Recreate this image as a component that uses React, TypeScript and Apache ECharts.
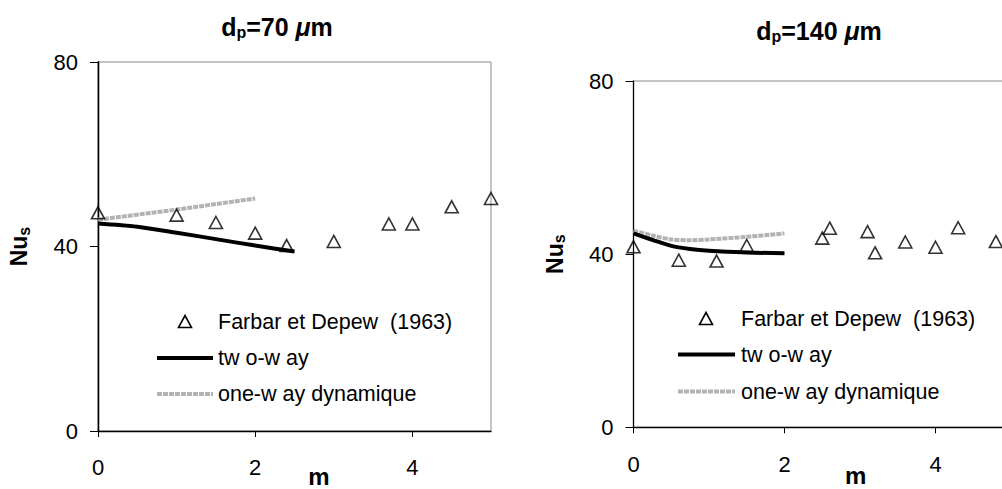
import React, { useEffect, useRef } from "react";
import * as echarts from "echarts";

// ---------- data ----------
const farbar70X = [0, 1, 1.5, 2, 2.4, 3, 3.7, 4, 4.5, 5];
const farbar70Y = [47.3, 46.8, 45.2, 42.9, 40.2, 41.1, 44.9, 44.9, 48.6, 50.4];
const twoWay70X = [0, 0.5, 1, 1.5, 2, 2.5];
const twoWay70Y = [45.0, 44.3, 43.0, 41.6, 40.2, 38.9];
const oneWay70X = [0, 0.5, 1, 1.5, 2];
const oneWay70Y = [45.8, 46.9, 48.0, 49.2, 50.4];

const farbar140X = [0, 0.6, 1.1, 1.5, 2.5, 2.6, 3.1, 3.2, 3.6, 4, 4.3, 4.8];
const farbar140Y = [41.7, 38.6, 38.4, 42.0, 43.7, 46.0, 45.2, 40.3, 42.8, 41.6, 46.1, 42.9];
const twoWay140X = [0, 0.25, 0.5, 0.75, 1, 1.5, 2];
const twoWay140Y = [44.8, 43.3, 41.9, 41.2, 40.8, 40.4, 40.2];
const oneWay140X = [0, 0.25, 0.5, 0.75, 1, 1.5, 2];
const oneWay140Y = [45.4, 44.3, 43.4, 43.2, 43.4, 44.0, 44.8];

const xTicks = [0, 2, 4];
const titles = ["70", "140"];
const legendNames = ["Farbar et Depew  (1963)", "tw o-w ay", "one-w ay dynamique"];

const FONT = "Liberation Sans";
const GRAY = "#b3b3b3";

const zip = (xs: number[], ys: number[]) => xs.map((x, i) => [x, ys[i]]);

export default function App() {
  const ref = useRef<HTMLDivElement>(null);
  useEffect(() => {
    if (!ref.current) return;
    const chart = echarts.init(ref.current, null, { renderer: "svg" });

    const grids = [
      { left: 98, top: 62, width: 393, height: 369 },
      { left: 633.5, top: 81, width: 377.5, height: 346.3 },
    ];
    const xNamePad = [49, 67];
    const xNameGap = [33, 36];
    const xLabelMargin = [25, 26];

    const xAxes: any[] = [];
    const yAxes: any[] = [];
    grids.forEach((g, i) => {
      xAxes.push({
        type: "value",
        gridIndex: i,
        min: 0,
        max: 5,
        interval: 1,
        name: "m",
        nameLocation: "middle",
        nameGap: xNameGap[i],
        nameMoveOverlap: false,
        nameTextStyle: {
          fontFamily: FONT,
          fontWeight: "bold",
          fontSize: 24,
          color: "#000",
          padding: [0, 0, 0, xNamePad[i]],
        },
        axisLine: { show: true, lineStyle: { color: "#000", width: 1.3 } },
        axisTick: { show: true, inside: false, length: 6, customValues: xTicks, lineStyle: { color: "#000" } },
        axisLabel: {
          customValues: xTicks,
          margin: xLabelMargin[i],
          fontFamily: FONT,
          fontSize: 22,
          color: "#000",
        },
        splitLine: { show: false },
      });
      yAxes.push({
        type: "value",
        gridIndex: i,
        min: 0,
        max: 80,
        interval: 40,
        name: "{a|Nu}{s|s}",
        nameLocation: "middle",
        nameGap: 66,
        nameMoveOverlap: false,
        nameTextStyle: {
          rich: {
            a: { fontFamily: FONT, fontWeight: "bold", fontSize: 23, color: "#000" },
            s: {
              fontFamily: FONT,
              fontWeight: "bold",
              fontSize: 16,
              color: "#000",
              padding: [10, 0, 0, 0],
            },
          },
        },
        axisLine: { show: true, onZero: false, lineStyle: { color: "#000", width: 1.3 } },
        axisTick: { show: true, inside: false, length: 8, lineStyle: { color: "#000" } },
        axisLabel: { margin: 20, fontFamily: FONT, fontSize: 22, color: "#000" },
        splitLine: { show: false },
      });
    });
    // right border of left chart (black)
    yAxes.push({
      type: "value",
      gridIndex: 0,
      position: "right",
      min: 0,
      max: 80,
      axisLine: { show: true, lineStyle: { color: "#000", width: 1.3 } },
      axisTick: { show: false },
      axisLabel: { show: false },
      splitLine: { show: false },
    });

    const scatterStyle = {
      symbol: "triangle",
      symbolSize: [13, 12],
      itemStyle: { color: "rgba(255,255,255,0)", borderColor: "#000", borderWidth: 1.6 },
    };

    const series: any[] = [
      {
        type: "line",
        name: legendNames[2],
        xAxisIndex: 0,
        yAxisIndex: 0,
        data: zip(oneWay70X, oneWay70Y),
        showSymbol: false,
        lineStyle: { color: GRAY, width: 4, type: [5, 1] },
        z: 2,
      },
      {
        type: "line",
        name: legendNames[1],
        xAxisIndex: 0,
        yAxisIndex: 0,
        data: zip(twoWay70X, twoWay70Y),
        showSymbol: false,
        smooth: 0.3,
        lineStyle: { color: "#000", width: 4 },
        z: 3,
      },
      {
        type: "scatter",
        name: legendNames[0],
        xAxisIndex: 0,
        yAxisIndex: 0,
        data: zip(farbar70X, farbar70Y),
        ...scatterStyle,
        z: 4,
      },
      {
        type: "line",
        name: legendNames[2],
        xAxisIndex: 1,
        yAxisIndex: 1,
        data: zip(oneWay140X, oneWay140Y),
        showSymbol: false,
        smooth: 0.3,
        lineStyle: { color: GRAY, width: 4, type: [5, 1] },
        z: 2,
      },
      {
        type: "line",
        name: legendNames[1],
        xAxisIndex: 1,
        yAxisIndex: 1,
        data: zip(twoWay140X, twoWay140Y),
        showSymbol: false,
        smooth: 0.3,
        lineStyle: { color: "#000", width: 4 },
        z: 3,
      },
      {
        type: "scatter",
        name: legendNames[0],
        xAxisIndex: 1,
        yAxisIndex: 1,
        data: zip(farbar140X, farbar140Y),
        ...scatterStyle,
        z: 4,
      },
    ];

    const titlePos = [
      [277, 27],
      [819, 31],
    ];
    const legendPos = [
      { tri: [185, 321.5], x1: 157, x2: 213, tx: 218, rows: [321.5, 358, 394] },
      { tri: [706, 318.5], x1: 678, x2: 735, tx: 741, rows: [318.5, 354.5, 391.5] },
    ];

    const graphic: any[] = [];
    titles.forEach((t, i) => {
      graphic.push({
        type: "text",
        x: titlePos[i][0],
        y: titlePos[i][1],
        style: {
          text: `{b|d}{s|p}{b|=${t} }{i|μ}{b|m}`,
          align: "center",
          verticalAlign: "middle",
          rich: {
            b: { fontFamily: FONT, fontWeight: "bold", fontSize: 25, fill: "#000" },
            i: { fontFamily: FONT, fontWeight: "bold", fontStyle: "italic", fontSize: 25, fill: "#000" },
            s: { fontFamily: FONT, fontWeight: "bold", fontSize: 16, fill: "#000", padding: [11, 0, 0, 0] },
          },
        },
      });
    });
    legendPos.forEach((L) => {
      const [cx, cy] = L.tri;
      graphic.push({
        type: "polygon",
        shape: { points: [[cx - 6.5, cy + 6], [cx + 6.5, cy + 6], [cx, cy - 6]] },
        style: { fill: "none", stroke: "#000", lineWidth: 1.6 },
      });
      graphic.push({
        type: "line",
        shape: { x1: L.x1, y1: L.rows[1], x2: L.x2, y2: L.rows[1] },
        style: { stroke: "#000", lineWidth: 4 },
      });
      graphic.push({
        type: "line",
        shape: { x1: L.x1, y1: L.rows[2], x2: L.x2, y2: L.rows[2] },
        style: { stroke: GRAY, lineWidth: 4, lineDash: [5, 1] },
      });
      legendNames.forEach((n, k) => {
        graphic.push({
          type: "text",
          x: L.tx,
          y: L.rows[k],
          style: {
            text: n,
            fontFamily: FONT,
            fontSize: 21.5,
            fill: "#000",
            align: "left",
            verticalAlign: "middle",
          },
        });
      });
    });

    chart.setOption({
      animation: false,
      backgroundColor: "#fff",
      grid: grids.map((g) => ({
        ...g,
        show: true,
        borderColor: "#8a8a8a",
        borderWidth: 1,
        backgroundColor: "transparent",
        containLabel: false,
        outerBoundsMode: "none",
      })),
      xAxis: xAxes,
      yAxis: yAxes,
      series,
      graphic,
    });
    return () => chart.dispose();
  }, []);

  return (
    <div
      ref={ref}
      style={{ position: "absolute", left: 0, top: 0, width: 1002, height: 489 }}
    />
  );
}
